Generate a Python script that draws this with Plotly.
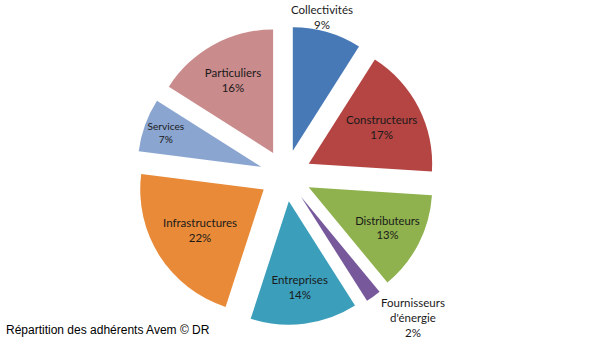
import plotly.graph_objects as go

# Répartition des adhérents par catégorie (%)
categories = ["Collectivités", "Constructeurs", "Distributeurs", "Fournisseurs<br>d'énergie",
              "Entreprises", "Infrastructures", "Services", "Particuliers"]
shares = [9, 17, 13, 2, 14, 22, 7, 16]
colors = ["#4779B6", "#B44543", "#8FB24E", "#77599B", "#3B9EBA", "#E88A38", "#8AA5D0", "#CA8B8C"]

# small slices get their label outside the pie, as free text (paper x, paper y)
outside_labels = {0: (0.537, 0.951), 3: (0.688, 0.064)}
label_pos = ["none" if i in outside_labels else "inside" for i in range(len(shares))]

label_font = dict(family="Lato, Open Sans, sans-serif", size=11.5, color="#1a1a1a")

fig = go.Figure(go.Pie(
    labels=categories,
    values=shares,
    sort=False,
    direction="clockwise",
    rotation=0,
    pull=0.21,
    marker=dict(colors=colors, line=dict(width=0)),
    texttemplate="%{label}<br>%{value}%",
    textposition=label_pos,
    insidetextorientation="horizontal",
    textfont=label_font,
    domain=dict(x=[0.227, 0.725], y=[0.041, 0.923]),
    automargin=False,
    showlegend=False,
    hoverinfo="label+percent",
))

for i, (ax, ay) in outside_labels.items():
    fig.add_annotation(
        text=f"{categories[i]}<br>{shares[i]}%",
        xref="paper", yref="paper", x=ax, y=ay,
        xanchor="center", yanchor="middle", showarrow=False,
        font=label_font,
    )

fig.add_annotation(
    text="Répartition des adhérents Avem © DR",
    xref="paper", yref="paper", x=0.006, y=0.027,
    xanchor="left", yanchor="middle", showarrow=False,
    font=dict(family="Liberation Sans, Arial, sans-serif", size=12, color="#000000"),
)

fig.update_layout(
    width=600, height=339,
    margin=dict(l=0, r=0, t=0, b=0, autoexpand=False),
    paper_bgcolor="white", plot_bgcolor="white",
)

fig.write_html("out.html")
